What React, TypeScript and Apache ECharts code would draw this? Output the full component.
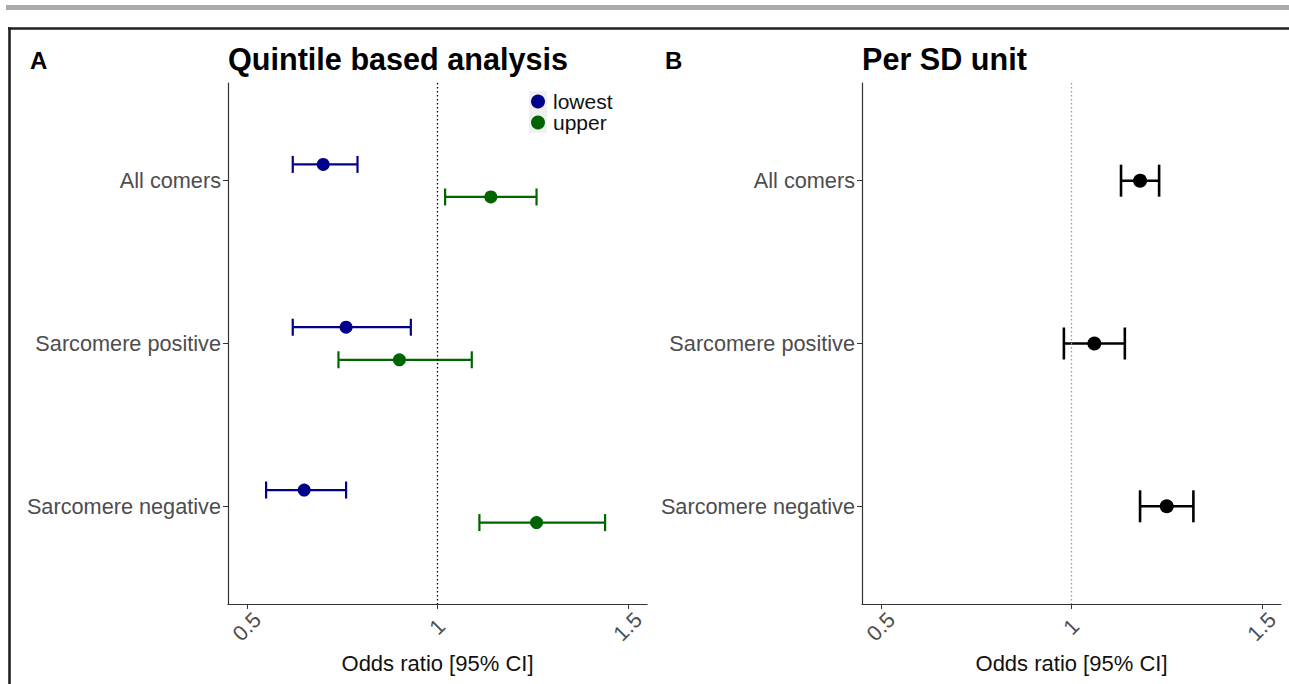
import React, { useEffect, useRef } from 'react';
import * as echarts from 'echarts';

const categories = ['All comers', 'Sarcomere positive', 'Sarcomere negative'];
const xTicks = [0.5, 1, 1.5];
const yTicks = [1, 2, 3];

// Panel A: quintile based analysis
const lowestOR = [0.70, 0.76, 0.65];
const lowestLo = [0.62, 0.62, 0.55];
const lowestHi = [0.79, 0.93, 0.76];
const upperOR = [1.14, 0.90, 1.26];
const upperLo = [1.02, 0.74, 1.11];
const upperHi = [1.26, 1.09, 1.44];

// Panel B: per SD unit
const sdOR = [1.18, 1.06, 1.25];
const sdLo = [1.13, 0.98, 1.18];
const sdHi = [1.23, 1.14, 1.32];

const FONT = '"Liberation Sans", Arial, Helvetica, sans-serif';
const DODGE = 0.1;

function errRender(capHalf: number, color: string, width: number) {
  return (params: any, api: any) => {
    const lo = api.coord([api.value(0), api.value(2)]);
    const hi = api.coord([api.value(1), api.value(2)]);
    const style = { stroke: color, lineWidth: width, fill: null };
    return {
      type: 'group',
      children: [
        { type: 'line', shape: { x1: lo[0], y1: lo[1], x2: hi[0], y2: hi[1] }, style },
        { type: 'line', shape: { x1: lo[0], y1: lo[1] - capHalf, x2: lo[0], y2: lo[1] + capHalf }, style },
        { type: 'line', shape: { x1: hi[0], y1: hi[1] - capHalf, x2: hi[0], y2: hi[1] + capHalf }, style },
      ],
    };
  };
}

function xAxisCfg(gridIndex: number) {
  return {
    type: 'value',
    gridIndex,
    min: 0.45,
    max: 1.55,
    name: 'Odds ratio [95% CI]',
    nameLocation: 'middle',
    nameGap: 42,
    nameTextStyle: { fontFamily: FONT, fontSize: 22, color: '#111' },
    axisLine: { show: true, lineStyle: { color: '#333', width: 1.2 } },
    axisTick: { show: true, customValues: xTicks, length: 5, lineStyle: { color: '#333' } },
    axisLabel: {
      customValues: xTicks,
      rotate: 45,
      align: 'center',
      verticalAlign: 'middle',
      margin: 23,
      fontFamily: FONT,
      fontSize: 21.5,
      color: '#4d4d4d',
      formatter: (v: number) => String(v),
    },
    splitLine: { show: false },
  };
}

function yAxisCfg(gridIndex: number) {
  return {
    type: 'value',
    gridIndex,
    min: 0.4,
    max: 3.6,
    inverse: true,
    axisLine: { show: true, lineStyle: { color: '#333', width: 1.2 } },
    axisTick: { show: true, customValues: yTicks, length: 5, lineStyle: { color: '#333' } },
    axisLabel: {
      customValues: yTicks,
      margin: 7,
      fontFamily: FONT,
      fontSize: 21.7,
      color: '#4d4d4d',
      formatter: (v: number) => categories[Math.round(v) - 1] ?? '',
    },
    splitLine: { show: false },
  };
}

export default function App() {
  const ref = useRef<HTMLDivElement>(null);
  useEffect(() => {
    if (!ref.current) return;
    const chart = echarts.init(ref.current, null, { renderer: 'svg' });

    const lowErr = categories.map((_, i) => [lowestLo[i], lowestHi[i], i + 1 - DODGE]);
    const upErr = categories.map((_, i) => [upperLo[i], upperHi[i], i + 1 + DODGE]);
    const lowPts = categories.map((_, i) => [lowestOR[i], i + 1 - DODGE]);
    const upPts = categories.map((_, i) => [upperOR[i], i + 1 + DODGE]);
    const sdErr = categories.map((_, i) => [sdLo[i], sdHi[i], i + 1]);
    const sdPts = categories.map((_, i) => [sdOR[i], i + 1]);

    chart.setOption({
      animation: false,
      backgroundColor: '#ffffff',
      textStyle: { fontFamily: FONT },
      graphic: [
        { type: 'rect', shape: { x: 6, y: 5, width: 1290, height: 5 }, style: { fill: '#aaaaac' } },
        { type: 'line', shape: { x1: 8, y1: 28.5, x2: 1295, y2: 28.5 }, style: { stroke: '#222', lineWidth: 2.6 } },
        { type: 'line', shape: { x1: 9.5, y1: 27.2, x2: 9.5, y2: 700 }, style: { stroke: '#222', lineWidth: 2.6 } },
        { type: 'rect', shape: { x: 529, y: 91, width: 18, height: 42 }, style: { fill: '#f0f0f0' }, z: 0 },
      ],
      title: [
        { text: 'A', left: 30, top: 48, padding: 0, textStyle: { fontFamily: FONT, fontSize: 24, fontWeight: 'bold', color: '#000' } },
        { text: 'Quintile based analysis', left: 228, top: 43, padding: 0, textStyle: { fontFamily: FONT, fontSize: 30.6, fontWeight: 'bold', color: '#000' } },
        { text: 'B', left: 665, top: 48, padding: 0, textStyle: { fontFamily: FONT, fontSize: 24, fontWeight: 'bold', color: '#000' } },
        { text: 'Per SD unit', left: 862, top: 43, padding: 0, textStyle: { fontFamily: FONT, fontSize: 30.6, fontWeight: 'bold', color: '#000' } },
      ],
      legend: {
        data: ['lowest', 'upper'],
        orient: 'vertical',
        left: 531,
        top: 91,
        padding: 0,
        itemGap: 0,
        itemWidth: 14,
        itemHeight: 14,
        icon: 'circle',
        itemStyle: { opacity: 1 },
        textStyle: { fontFamily: FONT, fontSize: 21, lineHeight: 21, color: '#111', padding: [0, 0, 0, 3] },
      },
      grid: [
        { left: 228, top: 83, width: 419, height: 521 },
        { left: 862, top: 83, width: 419, height: 521 },
      ],
      xAxis: [xAxisCfg(0), xAxisCfg(1)],
      yAxis: [yAxisCfg(0), yAxisCfg(1)],
      series: [
        {
          type: 'custom',
          name: 'lowestCI',
          xAxisIndex: 0,
          yAxisIndex: 0,
          renderItem: errRender(8.5, '#00008b', 2.2),
          encode: { x: [0, 1], y: 2 },
          data: lowErr,
          z: 2,
          markLine: {
            silent: true,
            symbol: 'none',
            label: { show: false },
            lineStyle: { color: '#000', type: [1.5, 2.5], width: 1.3 },
            data: [{ xAxis: 1 }],
          },
        },
        {
          type: 'custom',
          name: 'upperCI',
          xAxisIndex: 0,
          yAxisIndex: 0,
          renderItem: errRender(8.5, '#006400', 2.2),
          encode: { x: [0, 1], y: 2 },
          data: upErr,
          z: 2,
        },
        {
          type: 'scatter',
          name: 'lowest',
          xAxisIndex: 0,
          yAxisIndex: 0,
          symbol: 'circle',
          symbolSize: 13,
          itemStyle: { color: '#00008b', opacity: 1 },
          data: lowPts,
          z: 3,
        },
        {
          type: 'scatter',
          name: 'upper',
          xAxisIndex: 0,
          yAxisIndex: 0,
          symbol: 'circle',
          symbolSize: 13,
          itemStyle: { color: '#006400', opacity: 1 },
          data: upPts,
          z: 3,
        },
        {
          type: 'custom',
          name: 'sdCI',
          xAxisIndex: 1,
          yAxisIndex: 1,
          renderItem: errRender(16, '#000', 2.6),
          encode: { x: [0, 1], y: 2 },
          data: sdErr,
          z: 2,
          markLine: {
            silent: true,
            symbol: 'none',
            label: { show: false },
            lineStyle: { color: '#999', type: [1.5, 2.5], width: 1.3 },
            data: [{ xAxis: 1 }],
          },
        },
        {
          type: 'scatter',
          name: 'sd',
          xAxisIndex: 1,
          yAxisIndex: 1,
          symbol: 'circle',
          symbolSize: 14,
          itemStyle: { color: '#000', opacity: 1 },
          data: sdPts,
          z: 3,
        },
      ],
    });
    return () => chart.dispose();
  }, []);

  return (
    <div
      ref={ref}
      style={{ position: 'fixed', left: 0, top: 0, width: 1289, height: 684, background: '#fff' }}
    />
  );
}
